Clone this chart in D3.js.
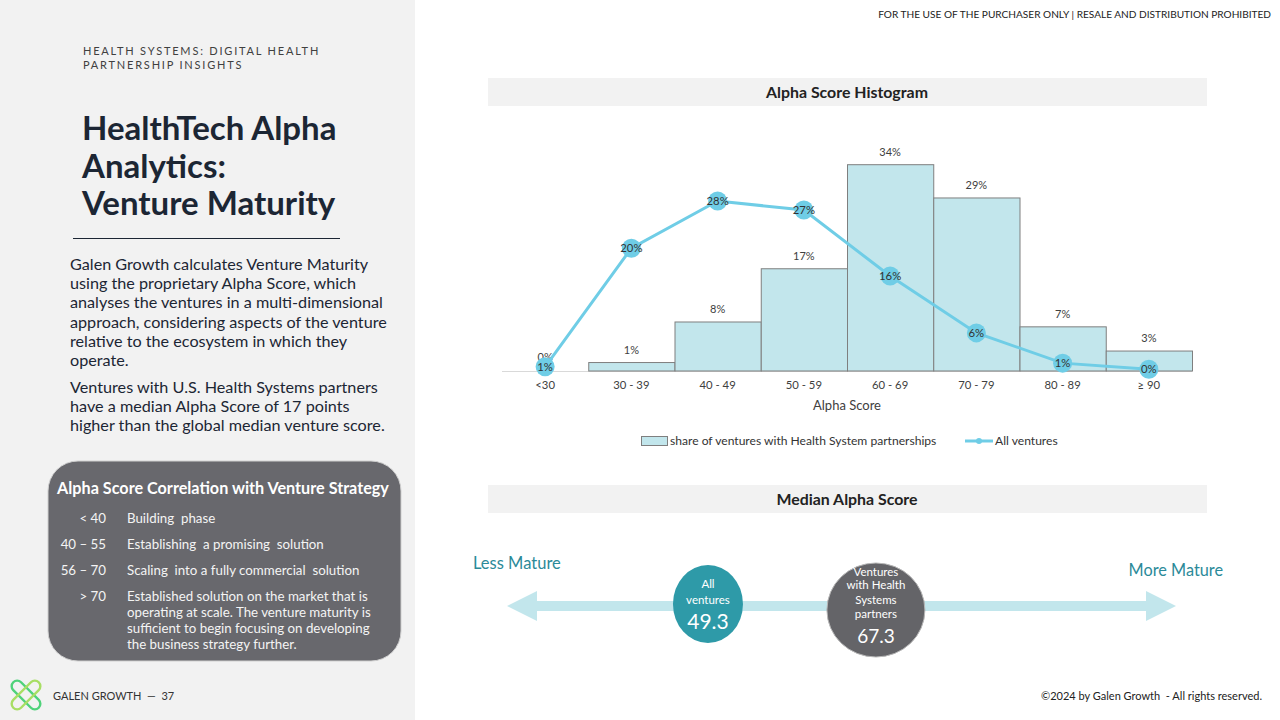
<!DOCTYPE html>
<html><head><meta charset="utf-8">
<script src="https://cdn.jsdelivr.net/npm/d3@7"></script>
<style>
html,body{margin:0;padding:0;background:#fff;}
svg{display:block;font-family:Lato,"Open Sans",sans-serif;}
</style></head>
<body>
<svg id="c" width="1280" height="720"></svg>
<script>
// ---- data ----
const categories = ["<30","30 - 39","40 - 49","50 - 59","60 - 69","70 - 79","80 - 89","\u2265 90"];
const healthSystemShare = [0, 1.4, 8.1, 16.9, 34.1, 28.6, 7.3, 3.3];
const allVentures = [0.7, 20.3, 28.1, 26.6, 15.7, 6.3, 1.3, 0.3];
const medianLabels = ["All ventures","Ventures with Health Systems partners"];
const medianValues = [49.3, 67.3];
const strategyRanges = ["< 40","40 \u2013 55","56 \u2013 70","> 70"];
const strategyTexts = [
  ["Building  phase"],
  ["Establishing  a promising  solution"],
  ["Scaling  into a fully commercial  solution"],
  ["Established solution on the market that is","operating at scale. The venture maturity is","sufficient to begin focusing on developing","the business strategy further."]
];

const svg = d3.select("#c");

// ---- left panel ----
svg.append("rect").attr("x",0).attr("y",0).attr("width",415).attr("height",720).attr("fill","#f2f2f2");
svg.append("text").attr("x",83).attr("y",55).attr("font-size",11).attr("letter-spacing",1.8).attr("fill","#404040")
  .text("HEALTH SYSTEMS: DIGITAL HEALTH");
svg.append("text").attr("x",83).attr("y",69).attr("font-size",11).attr("letter-spacing",1.8).attr("fill","#404040")
  .text("PARTNERSHIP INSIGHTS");
["HealthTech Alpha","Analytics:","Venture Maturity"].forEach((t,i)=>{
  svg.append("text").attr("x",82).attr("y",140+i*37.5).attr("font-size",33).attr("font-weight",700)
    .attr("fill","#1c2634").text(t);
});
svg.append("line").attr("x1",73).attr("x2",340).attr("y1",238.5).attr("y2",238.5).attr("stroke","#1c2634").attr("stroke-width",1.2);
const para1 = ["Galen Growth calculates Venture Maturity","using the proprietary Alpha Score, which","analyses the ventures in a multi-dimensional","approach, considering aspects of the venture","relative to the ecosystem in which they","operate."];
para1.forEach((t,i)=>{
  svg.append("text").attr("x",70).attr("y",270+i*19.2).attr("font-size",16.2).attr("fill","#1c2634").text(t);
});
const para2 = ["Ventures with U.S. Health Systems partners","have a median Alpha Score of 17 points","higher than the global median venture score."];
para2.forEach((t,i)=>{
  svg.append("text").attr("x",70).attr("y",393+i*19.2).attr("font-size",16.2).attr("fill","#1c2634").text(t);
});

// strategy box
svg.append("rect").attr("x",48).attr("y",461).attr("width",353).attr("height",200).attr("rx",30)
  .attr("fill","#68686d").attr("stroke","#d0d0d0").attr("stroke-width",1);
svg.append("text").attr("x",223).attr("y",494).attr("text-anchor","middle").attr("font-size",16.2).attr("font-weight",700)
  .attr("fill","#ffffff").text("Alpha Score Correlation with Venture Strategy");
const rowY = [523, 549, 575, 601];
strategyRanges.forEach((r,i)=>{
  svg.append("text").attr("x",106).attr("y",rowY[i]).attr("text-anchor","end").attr("font-size",13.3).attr("fill","#f4f4f4").text(r);
  strategyTexts[i].forEach((t,j)=>{
    svg.append("text").attr("x",127).attr("y",rowY[i]+j*16).attr("font-size",13.3).attr("fill","#f4f4f4")
      .attr("xml:space","preserve").style("white-space","pre").text(t);
  });
});

// footer logo
const logo = svg.append("g").attr("transform","translate(26,695)");
logo.append("rect").attr("x",-5.5).attr("y",-18).attr("width",11).attr("height",36).attr("rx",5.5)
  .attr("transform","rotate(-45)").attr("fill","none").attr("stroke","#4fd27a").attr("stroke-width",2.4);
logo.append("rect").attr("x",-5.5).attr("y",-18).attr("width",11).attr("height",36).attr("rx",5.5)
  .attr("transform","rotate(45)").attr("fill","none").attr("stroke","#a8de64").attr("stroke-width",2.4);
svg.append("text").attr("x",53).attr("y",700).attr("font-size",11).attr("fill","#333").text("GALEN GROWTH  \u2014  37").style("white-space","pre");
svg.append("text").attr("x",1262).attr("y",700).attr("text-anchor","end").attr("font-size",11).attr("fill","#222")
  .text("\u00a92024 by Galen Growth  - All rights reserved.").style("white-space","pre");
svg.append("text").attr("x",1271).attr("y",18).attr("text-anchor","end").attr("font-size",10.1).attr("fill","#222")
  .text("FOR THE USE OF THE PURCHASER ONLY | RESALE AND DISTRIBUTION PROHIBITED");

// ---- histogram ----
function bandTitle(y, t){
  svg.append("rect").attr("x",488).attr("y",y).attr("width",719).attr("height",28).attr("fill","#f2f2f2");
  svg.append("text").attr("x",847).attr("y",y+20).attr("text-anchor","middle").attr("font-size",15.9).attr("font-weight",700)
    .attr("fill","#222").text(t);
}
bandTitle(78,"Alpha Score Histogram");
bandTitle(485,"Median Alpha Score");

const x = d3.scaleBand().domain(categories).range([502,1192]).padding(0);
const y = d3.scaleLinear().domain([0,40]).range([371,129]);

const g = svg.append("g");
g.append("line").attr("x1",502).attr("x2",1192).attr("y1",y(0)+0.5).attr("y2",y(0)+0.5).attr("stroke","#d9d9d9").attr("stroke-width",1);
g.selectAll("rect.bar").data(categories).join("rect").attr("class","bar")
  .attr("x",d=>x(d)+0.5).attr("width",x.bandwidth())
  .attr("y",(d,i)=>y(healthSystemShare[i])).attr("height",(d,i)=>y(0)-y(healthSystemShare[i]))
  .attr("fill","#c2e6ec").attr("stroke",(d,i)=>healthSystemShare[i]>0?"#7f7f7f":"none").attr("stroke-width",1);
g.selectAll("text.bl").data(categories).join("text").attr("class","bl")
  .attr("x",d=>x(d)+x.bandwidth()/2).attr("y",(d,i)=>y(healthSystemShare[i])-(healthSystemShare[i]>0?9:10))
  .attr("text-anchor","middle").attr("font-size",11).attr("fill","#404040")
  .text((d,i)=>Math.round(healthSystemShare[i])+"%");

// axis tick labels
const xAxis = d3.axisBottom(x).tickSize(0).tickPadding(10);
const ax = g.append("g").attr("transform",`translate(0,${y(0)})`).call(xAxis);
ax.select(".domain").remove();
ax.selectAll("text").attr("font-size",11.3).attr("fill","#404040").attr("font-family","Lato,sans-serif");
g.append("text").attr("x",847).attr("y",410).attr("text-anchor","middle").attr("font-size",13).attr("fill","#404040").text("Alpha Score");

// line
const line = d3.line().x((d,i)=>x(categories[i])+x.bandwidth()/2).y(d=>y(d));
g.append("path").datum(allVentures).attr("d",line).attr("fill","none").attr("stroke","#6fcde6").attr("stroke-width",3);
g.selectAll("circle.pt").data(allVentures).join("circle").attr("class","pt")
  .attr("cx",(d,i)=>x(categories[i])+x.bandwidth()/2).attr("cy",d=>y(d)).attr("r",9.5).attr("fill","#6fcde6");
g.selectAll("text.pl").data(allVentures).join("text").attr("class","pl")
  .attr("x",(d,i)=>x(categories[i])+x.bandwidth()/2).attr("y",d=>y(d)+4)
  .attr("text-anchor","middle").attr("font-size",11.3).attr("fill","#333")
  .text(d=>Math.round(d)+"%");

// legend
svg.append("rect").attr("x",641.5).attr("y",436.5).attr("width",26).attr("height",9).attr("fill","#c2e6ec").attr("stroke","#7f7f7f");
svg.append("text").attr("x",670).attr("y",445).attr("font-size",12.1).attr("fill","#333").text("share of ventures with Health System partnerships");
svg.append("line").attr("x1",965).attr("x2",993).attr("y1",441).attr("y2",441).attr("stroke","#6fcde6").attr("stroke-width",3);
svg.append("circle").attr("cx",979).attr("cy",441).attr("r",3).attr("fill","#6fcde6");
svg.append("text").attr("x",995).attr("y",445).attr("font-size",12.1).attr("fill","#333").text("All ventures");

// ---- median score arrow ----
const m = d3.scaleLinear().domain([0,100]).range([248,1181]);
const ay = 606;
svg.append("rect").attr("x",530).attr("y",ay-5).attr("width",623).attr("height",10).attr("fill","#c2e6ec");
svg.append("path").attr("d",`M507,${ay} L537,${ay-15} L537,${ay+15} Z`).attr("fill","#c2e6ec");
svg.append("path").attr("d",`M1176,${ay} L1146,${ay-15} L1146,${ay+15} Z`).attr("fill","#c2e6ec");
svg.append("text").attr("x",473).attr("y",569).attr("font-size",16.5).attr("fill","#2b8a99").text("Less Mature");
svg.append("text").attr("x",1223).attr("y",576).attr("text-anchor","end").attr("font-size",16.3).attr("fill","#2b8a99").text("More Mature");

// All ventures bubble
const b1 = svg.append("g").attr("transform",`translate(${m(medianValues[0])},604)`);
b1.append("ellipse").attr("rx",35).attr("ry",39).attr("fill","#2e9aa8");
[["All",-16],["ventures",0]].forEach(([t,dy])=>b1.append("text").attr("y",dy).attr("text-anchor","middle").attr("font-size",11.5).attr("fill","#fff").text(t));
b1.append("text").attr("y",25).attr("text-anchor","middle").attr("font-size",21).attr("fill","#fff").text(medianValues[0].toFixed(1));

const b2 = svg.append("g").attr("transform",`translate(${m(medianValues[1])},610)`);
b2.append("ellipse").attr("rx",49).attr("ry",47).attr("fill","#646468").attr("stroke","#b8b8b8").attr("stroke-width",1);
[["Ventures",-34],["with Health",-21],["Systems",-6],["partners",8]].forEach(([t,dy])=>b2.append("text").attr("y",dy).attr("text-anchor","middle").attr("font-size",11.5).attr("fill","#fff").text(t));
b2.append("text").attr("y",33).attr("text-anchor","middle").attr("font-size",19).attr("fill","#fff").text(medianValues[1].toFixed(1));
</script>
</body></html>
